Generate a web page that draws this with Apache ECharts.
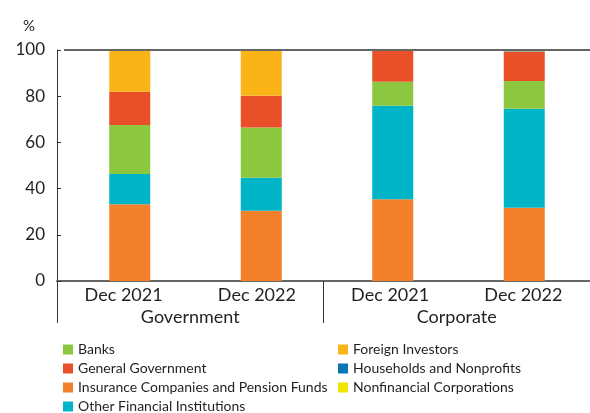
<!DOCTYPE html>
<html>
<head>
<meta charset="utf-8">
<script src="https://cdn.jsdelivr.net/npm/echarts@6/dist/echarts.min.js"></script>
<style>
  html, body { margin: 0; padding: 0; background: #fff; }
  #chart { width: 590px; height: 413px; }
</style>
</head>
<body>
<div id="chart"></div>
<script>
// Holders of bonds, share of outstanding (%)
var periods = ['Dec 2021', 'Dec 2022', 'Dec 2021', 'Dec 2022'];
var groups = ['Government', 'Corporate'];
var yTicks = [0, 20, 40, 60, 80, 100];

var insurancePension = [33.2, 30.4, 35.4, 31.7];
var otherFinancial = [13.1, 14.3, 40.5, 42.9];
var banks = [21.2, 21.7, 10.4, 12.0];
var generalGovernment = [14.4, 13.8, 13.7, 12.6];
var householdsNonprofits = [0, 0, 0, 0.3];
var nonfinancialCorps = [0, 0, 0, 0.5];
var foreignInvestors = [18.1, 19.8, 0, 0];

var FONT = 'Lato, "Noto Sans", sans-serif';
var TEXT = '#231f20';
var Y_MIN = yTicks[0];
var Y_MAX = yTicks[yTicks.length - 1];

// stacking order, bottom to top
var stackSeries = [
  { name: 'Insurance Companies and Pension Funds', data: insurancePension, color: '#f3802b' },
  { name: 'Other Financial Institutions', data: otherFinancial, color: '#00b4c8' },
  { name: 'Banks', data: banks, color: '#8dc63f' },
  { name: 'General Government', data: generalGovernment, color: '#e9502a' },
  { name: 'Households and Nonprofits', data: householdsNonprofits, color: '#0b76b6' },
  { name: 'Nonfinancial Corporations', data: nonfinancialCorps, color: '#f1e400' },
  { name: 'Foreign Investors', data: foreignInvestors, color: '#fab417' }
];

// bars live in the inner plotting grid (index 1); the framed axes are in grid 0
var series = stackSeries.map(function (s, i) {
  var out = {
    name: s.name,
    type: 'bar',
    stack: 'holders',
    barWidth: 41,
    xAxisIndex: 2,
    yAxisIndex: 1,
    data: s.data,
    itemStyle: { color: s.color },
    emphasis: { disabled: true }
  };
  if (i === 0) {
    // upper frame line at 100%
    out.markLine = {
      silent: true,
      symbol: 'none',
      label: { show: false },
      lineStyle: { color: '#666', width: 2, type: 'solid' },
      data: [{ yAxis: Y_MAX }]
    };
  }
  return out;
});

var legendText = { fontFamily: FONT, fontSize: 14, color: TEXT, lineHeight: 15 };
var legendBase = {
  orient: 'vertical', top: 342, height: 80,
  itemWidth: 10, itemHeight: 10, itemGap: 4,
  icon: 'rect', selectedMode: false, padding: 0,
  textStyle: legendText
};

var chart = echarts.init(document.getElementById('chart'), null, { renderer: 'canvas' });
chart.setOption({
  animation: false,
  backgroundColor: '#fff',
  title: {
    text: '%',
    left: 23,
    top: 19,
    padding: 0,
    textStyle: { fontFamily: FONT, fontSize: 15, fontWeight: 'normal', color: TEXT }
  },
  grid: [
    { left: 57, top: 50, width: 542, height: 231, containLabel: false },
    { left: 64, top: 50, width: 529, height: 231, containLabel: false }
  ],
  legend: [
    Object.assign({}, legendBase, {
      data: ['Banks', 'General Government', 'Insurance Companies and Pension Funds', 'Other Financial Institutions'],
      left: 63
    }),
    Object.assign({}, legendBase, {
      data: ['Foreign Investors', 'Households and Nonprofits', 'Nonfinancial Corporations'],
      left: 338
    })
  ],
  xAxis: [
    {
      type: 'category',
      gridIndex: 0,
      data: periods,
      position: 'bottom',
      axisLine: { lineStyle: { color: '#666', width: 2 } },
      axisTick: {
        inside: true, length: 4,
        lineStyle: { color: '#555', width: 1 },
        interval: function (idx) { return idx === 1 || idx === 3; }
      },
      axisLabel: { fontFamily: FONT, fontSize: 18, color: TEXT, margin: 5, interval: 0 }
    },
    {
      type: 'category',
      gridIndex: 0,
      data: groups,
      position: 'bottom',
      axisLine: { show: false },
      axisTick: { show: true, inside: false, length: 42, lineStyle: { color: '#333', width: 1 } },
      axisLabel: { fontFamily: FONT, fontSize: 18, color: TEXT, margin: 27 }
    },
    {
      type: 'category',
      gridIndex: 1,
      data: periods,
      show: false
    }
  ],
  yAxis: [
    {
      type: 'value',
      gridIndex: 0,
      min: Y_MIN,
      max: Y_MAX,
      interval: 20,
      axisLine: { show: true, lineStyle: { color: '#333', width: 1 } },
      axisTick: { show: true, inside: true, length: 4, lineStyle: { color: '#333' } },
      splitLine: { show: false },
      axisLabel: { fontFamily: FONT, fontSize: 17, color: TEXT, margin: 12 }
    },
    {
      type: 'value',
      gridIndex: 1,
      min: Y_MIN,
      max: Y_MAX,
      interval: 20,
      show: false,
      splitLine: { show: false }
    }
  ],
  series: series
});
</script>
</body>
</html>
